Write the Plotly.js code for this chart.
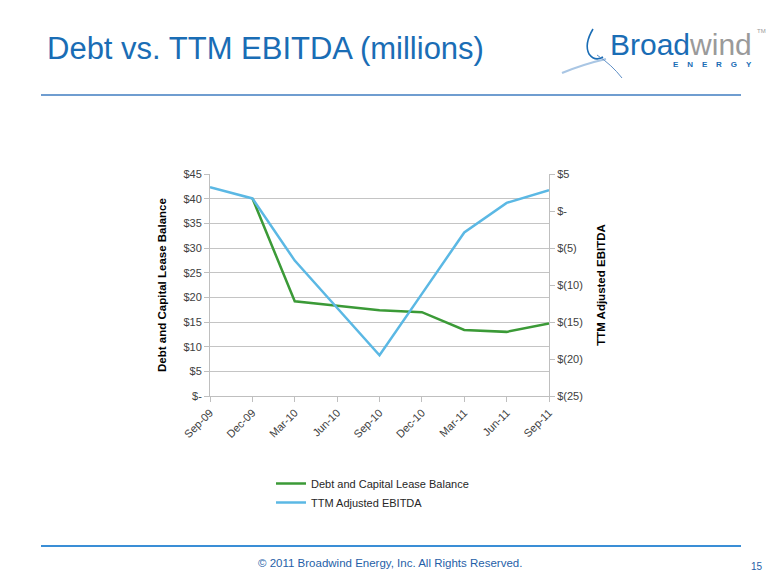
<!DOCTYPE html>
<html>
<head>
<meta charset="utf-8">
<script src="https://cdn.plot.ly/plotly-3.0.1.min.js"></script>
<style>html,body{margin:0;padding:0;background:#fff;}#chart{width:780px;height:585px;}</style>
</head>
<body>
<div id="chart"></div>
<script>
// ---- data ----
const months = ['Sep-09','Dec-09','Mar-10','Jun-10','Sep-10','Dec-10','Mar-11','Jun-11','Sep-11'];
const debtBalance = [null, 40.1, 19.2, 18.3, 17.4, 17.0, 13.4, 13.0, 14.7];
const ttmEbitda = [3.2, 1.7, -6.7, -13.1, -19.5, -11.2, -2.9, 1.1, 2.8];
const leftTickVals = [0, 5, 10, 15, 20, 25, 30, 35, 40, 45];
const leftTickText = ['$-', '$5', '$10', '$15', '$20', '$25', '$30', '$35', '$40', '$45'];
const rightTickVals = [-25, -20, -15, -10, -5, 0, 5];
const rightTickText = ['$(25)', '$(20)', '$(15)', '$(10)', '$(5)', '$-', '$5'];
const seriesNames = ['Debt and Capital Lease Balance', 'TTM Adjusted EBITDA'];

// ---- geometry helpers (pixel -> paper) ----
const W = 780, H = 585, PL = 210, PR = 549, PT = 174, PB = 396;
const px = x => (x - PL) / (PR - PL);
const py = y => (PB - y) / (PB - PT);
function pathPx(pts) {
  return pts.replace(/(-?\d+(\.\d+)?),(-?\d+(\.\d+)?)/g, (m, a, _b, c) => px(+a).toFixed(5) + ',' + py(+c).toFixed(5));
}

const FONT = 'Liberation Sans, Arial, sans-serif';
const axisGrey = '#bfbfbf';

const traces = [
  {x: months, y: debtBalance, name: seriesNames[0], type: 'scatter', mode: 'lines',
   line: {color: '#3b9a37', width: 2.5}, yaxis: 'y'},
  {x: months, y: ttmEbitda, name: seriesNames[1], type: 'scatter', mode: 'lines',
   line: {color: '#5bb8e4', width: 2.5}, yaxis: 'y2'}
];

const layout = {
  width: W, height: H,
  margin: {l: PL, r: W - PR, t: PT, b: H - PB, pad: 0},
  paper_bgcolor: '#ffffff', plot_bgcolor: '#ffffff',
  font: {family: FONT, size: 11, color: '#404040'},
  showlegend: true,
  title: {text: 'Debt vs. TTM EBITDA (millions)', x: 47 / W, xanchor: 'left', xref: 'container',
          y: 1 - 48.5 / H, yanchor: 'middle', yref: 'container',
          font: {family: FONT, size: 31, color: '#1a6db5'}},
  xaxis: {type: 'category', categoryorder: 'array', categoryarray: months, range: [0, 8],
          showline: true, linecolor: axisGrey, linewidth: 1, ticks: 'outside', ticklen: 5,
          tickcolor: axisGrey, tickangle: -45, showgrid: false, zeroline: false,
          tickfont: {family: FONT, size: 11, color: '#404040'}},
  yaxis: {range: [0, 45], tickvals: leftTickVals, ticktext: leftTickText,
          showgrid: true, gridcolor: '#c4c4c4', gridwidth: 1, zeroline: false,
          showline: true, linecolor: axisGrey, ticks: 'outside', ticklen: 5, tickcolor: axisGrey,
          tickfont: {family: FONT, size: 11, color: '#404040'},
          title: {text: seriesNames[0], standoff: 14,
                  font: {family: FONT, size: 11.5, color: '#000000', weight: 'bold'}}},
  yaxis2: {range: [-25, 5], tickvals: rightTickVals, ticktext: rightTickText,
           overlaying: 'y', side: 'right', showgrid: false, zeroline: false,
           showline: true, linecolor: axisGrey, ticks: 'outside', ticklen: 5, tickcolor: axisGrey,
           tickfont: {family: FONT, size: 11, color: '#404040'},
           title: {text: seriesNames[1], standoff: 15,
                   font: {family: FONT, size: 11.5, color: '#000000', weight: 'bold'}}},
  legend: {orientation: 'v', x: px(271), xanchor: 'left', y: py(469), yanchor: 'top',
           font: {family: FONT, size: 11, color: '#262626'}, bgcolor: 'rgba(0,0,0,0)',
           tracegroupgap: 0, itemwidth: 30},
  shapes: [
    {type: 'line', xref: 'paper', yref: 'paper', x0: px(41), x1: px(741), y0: py(95), y1: py(95),
     line: {color: '#3f7cc0', width: 1.5}},
    {type: 'line', xref: 'paper', yref: 'paper', x0: px(41), x1: px(741), y0: py(546), y1: py(546),
     line: {color: '#3a8ed6', width: 2}},
    // logo figure
    {type: 'path', xref: 'paper', yref: 'paper', path: pathPx('M 593,29 Q 584,44 589,54 Q 595,62 603,57'),
     line: {color: '#1a6db5', width: 1.6}},
    {type: 'path', xref: 'paper', yref: 'paper', path: pathPx('M 562,73 Q 584,64 606,59'),
     line: {color: '#a9c6e4', width: 2.2}},
    {type: 'path', xref: 'paper', yref: 'paper', path: pathPx('M 597,55 Q 612,65 622,78'),
     line: {color: '#5f8fc6', width: 1}}
  ],
  annotations: [
    {xref: 'paper', yref: 'paper', x: px(608), y: py(44), xanchor: 'left', yanchor: 'middle', showarrow: false,
     height: 26, valign: 'middle',
     text: '<span style="color:#1a6db5">Broad</span><span style="color:#9a9a9a">wind</span>',
     font: {family: FONT, size: 30, color: '#1a6db5'}},
    {xref: 'paper', yref: 'paper', x: px(755), y: py(31), xanchor: 'left', yanchor: 'middle', showarrow: false,
     text: 'TM', font: {family: FONT, size: 6, color: '#9a9a9a'}},
    {xref: 'paper', yref: 'paper', x: px(712.5), y: py(65), xanchor: 'center', yanchor: 'middle', showarrow: false,
     text: 'E\u00a0\u00a0\u00a0\u00a0N\u00a0\u00a0\u00a0\u00a0E\u00a0\u00a0\u00a0\u00a0R\u00a0\u00a0\u00a0\u00a0G\u00a0\u00a0\u00a0\u00a0Y',
     font: {family: FONT, size: 8, color: '#1a6db5', weight: 'bold'}},
    {xref: 'paper', yref: 'paper', x: px(390), y: py(563), xanchor: 'center', yanchor: 'middle', showarrow: false,
     text: '\u00a9 2011 Broadwind Energy, Inc. All Rights Reserved.',
     font: {family: FONT, size: 11.5, color: '#1f5fa8'}},
    {xref: 'paper', yref: 'paper', x: px(757), y: py(566), xanchor: 'center', yanchor: 'middle', showarrow: false,
     text: '15', font: {family: FONT, size: 10, color: '#1f5fa8'}}
  ]
};

Plotly.newPlot('chart', traces, layout, {displayModeBar: false, staticPlot: true});
</script>
</body>
</html>
